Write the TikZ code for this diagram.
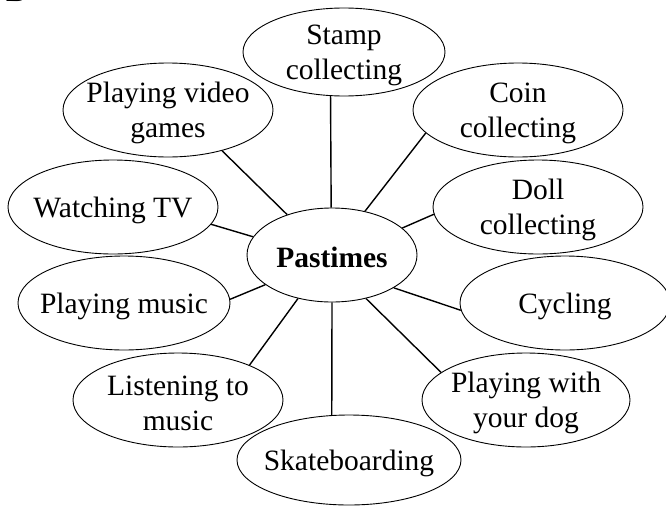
\documentclass[tikz,border=0pt]{standalone}
\usepackage{fontspec}
\setmainfont{Liberation Serif}
\usetikzlibrary{shapes.geometric}
\begin{document}
\begin{tikzpicture}[x=1pt,y=-1pt,
  bub/.style={draw, ellipse, line width=0.9pt, inner sep=0pt, minimum width=210pt, minimum height=94pt},
  lbl/.style={align=center, inner sep=0pt, yshift=-3pt, font=\fontsize{29.5}{35}\selectfont},
  con/.style={line width=1.4pt}]
\useasboundingbox (0,0) rectangle (666,506);
\clip (0,0) rectangle (666,506);
% partial letter at top-left
\node[lbl, anchor=base, yshift=3pt] (letter) at (16,1.5) {\bfseries B};
% ellipses
\node[bub, minimum width=170pt] (pas) at (332,255) {};
\node[bub, minimum width=202pt, minimum height=88pt] (stm) at (344,52) {};
\node[bub] (coin) at (518,110) {};
\node[bub] (doll) at (538,207) {};
\node[bub] (cyc) at (565,303) {};
\node[bub, minimum width=208pt] (dog) at (526,400) {};
\node[bub, minimum width=224pt, minimum height=90pt] (sk) at (349,460) {};
\node[bub] (lis) at (178,400) {};
\node[bub, minimum width=212pt] (pm) at (124,303) {};
\node[bub] (wtv) at (113,207) {};
\node[bub] (vid) at (168,110) {};
% texts
\node[lbl, yshift=1pt] (past) at (pas) {\bfseries Pastimes};
\node[lbl] (stmt) at (stm) {Stamp\\collecting};
\node[lbl] (coint) at (coin) {Coin\\collecting};
\node[lbl] (dollt) at (doll) {Doll\\collecting};
\node[lbl] (cyct) at (cyc) {Cycling};
\node[lbl] (dogt) at (dog) {Playing with\\your dog};
\node[lbl] (skt) at (sk) {Skateboarding};
\node[lbl] (list) at (lis) {Listening to\\music};
\node[lbl] (pmt) at (pm) {Playing music};
\node[lbl] (wtvt) at (wtv) {Watching TV};
\node[lbl] (vidt) at (vid) {Playing video\\games};
% connectors
\draw[con] (pas.91.2) -- (stm.253.5);
\draw[con] (pas.53.1) -- (coin.194.7);
\draw[con] (pas.21.5) -- (doll.184.4);
\draw[con] (pas.332.4) -- (cyc.184.4);
\draw[con] (pas.308.5) -- (dog.162.6);
\draw[con] (pas.270) -- (sk.111.1);
\draw[con] (pas.232.3) -- (lis.26.6);
\draw[con] (pas.204.1) -- (pm.2.2);
\draw[con] (pas.167.9) -- (wtv.350.6);
\draw[con] (pas.138.4) -- (vid.323.6);
\end{tikzpicture}
\end{document}
